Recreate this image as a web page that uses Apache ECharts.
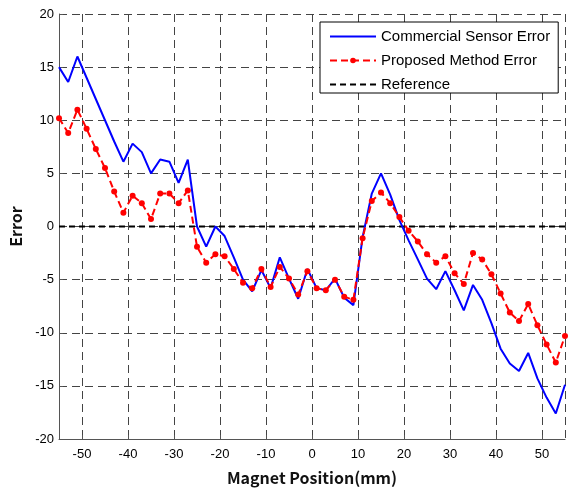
<!DOCTYPE html>
<html>
<head>
<meta charset="utf-8">
<script src="https://cdn.jsdelivr.net/npm/echarts@6/dist/echarts.min.js"></script>
<style>
  html, body { margin: 0; padding: 0; background: #fff; }
  #chart { width: 568px; height: 493px; }
</style>
</head>
<body>
<div id="chart"></div>
<script>
// magnet position (mm)
const positions = [-55, -53, -51, -49, -47, -45, -43, -41, -39, -37, -35, -33, -31, -29,
  -27, -25, -23, -21, -19, -17, -15, -13, -11, -9, -7, -5, -3, -1,
  1, 3, 5, 7, 9, 11, 13, 15, 17, 19, 21, 23, 25, 27,
  29, 31, 33, 35, 37, 39, 41, 43, 45, 47, 49, 51, 53, 55]

const commercialError = [15.0, 13.6, 16.0, 14.0, 12.0, 10.0, 8.0, 6.1, 7.8, 7.0, 5.0, 6.3, 6.1, 4.1,
  6.3, 0.0, -1.9, 0.0, -0.9, -2.9, -5.0, -6.1, -4.1, -5.8, -2.9, -4.9, -6.8, -4.0,
  -5.8, -6.0, -4.9, -6.7, -7.4, -1.0, 3.1, 5.0, 3.0, 0.6, -1.3, -3.1, -4.9, -5.9,
  -4.2, -6.0, -7.9, -5.5, -6.9, -9.1, -11.5, -12.9, -13.6, -11.9, -14.3, -16.1, -17.6, -14.9]

const proposedError = [10.2, 8.8, 11.0, 9.2, 7.3, 5.5, 3.3, 1.3, 2.9, 2.2, 0.7, 3.1, 3.1, 2.2,
  3.4, -1.9, -3.4, -2.6, -2.8, -4.0, -5.3, -5.8, -4.0, -5.7, -3.8, -4.9, -6.4, -4.2,
  -5.8, -6.0, -5.0, -6.6, -6.9, -1.1, 2.4, 3.2, 2.2, 0.9, -0.4, -1.4, -2.6, -3.4,
  -2.8, -4.4, -5.4, -2.5, -3.1, -4.5, -6.3, -8.1, -8.9, -7.3, -9.3, -11.1, -12.8, -10.3]

const referenceX = [-55, 55]
const referenceY = [0, 0]

const pairs = (xs, ys) => xs.map((x, i) => [x, ys[i]])

const chart = echarts.init(document.getElementById('chart'))
const gridLine = { show: true, lineStyle: { color: '#444', type: [8, 5], width: 1 } }

const option = {
    animation: false,
    grid: { left: 57, right: 3, top: 14, bottom: 54 },
    legend: {
        left: 320,
        top: 22,
        orient: 'vertical',
        backgroundColor: '#fff',
        borderColor: '#000',
        borderWidth: 1,
        borderRadius: 0,
        padding: [7, 8, 1, 9],
        itemWidth: 46,
        itemHeight: 7,
        itemGap: 9,
        textStyle: { fontFamily: 'Liberation Sans', fontSize: 15, color: '#000' },
        data: [
            { name: 'Commercial Sensor Error', itemStyle: { opacity: 0 } },
            { name: 'Proposed Method Error' },
            { name: 'Reference', itemStyle: { opacity: 0 } }
        ]
    },
    xAxis: {
        type: 'value',
        min: -55,
        max: 55,
        splitNumber: 11,
        name: 'Magnet Position(mm)',
        nameLocation: 'middle',
        nameGap: 31,
        nameTextStyle: { fontFamily: 'Noto Sans CJK KR', fontWeight: 'bold', fontSize: 16, color: '#111' },
        axisLine: { onZero: false, lineStyle: { color: '#555', width: 1 } },
        axisTick: { inside: true, length: 4, lineStyle: { color: '#555' } },
        axisLabel: {
            showMinLabel: false, showMaxLabel: false, margin: 9,
            fontFamily: 'Liberation Sans', fontSize: 13, color: '#000'
        },
        splitLine: gridLine
    },
    yAxis: {
        type: 'value',
        min: -20,
        max: 20,
        interval: 5,
        name: 'Error',
        nameLocation: 'middle',
        nameGap: 35,
        nameTextStyle: { fontFamily: 'Noto Sans CJK KR', fontWeight: 'bold', fontSize: 16, color: '#111' },
        axisLine: { show: true, onZero: false, lineStyle: { color: '#555', width: 1 } },
        axisTick: { show: true, inside: true, length: 4, lineStyle: { color: '#555' } },
        axisLabel: { margin: 5, fontFamily: 'Liberation Sans', fontSize: 13, color: '#000' },
        splitLine: gridLine
    },
    series: [
        {
            name: 'Commercial Sensor Error',
            type: 'line',
            symbol: 'none',
            color: '#0000ff',
            lineStyle: { width: 2, color: '#0000ff' },
            data: pairs(positions, commercialError),
            z: 3
        },
        {
            name: 'Proposed Method Error',
            type: 'line',
            symbol: 'circle',
            symbolSize: 6,
            color: '#ff0000',
            itemStyle: { color: '#ff0000' },
            lineStyle: { width: 2, color: '#ff0000', type: [7, 4] },
            data: pairs(positions, proposedError),
            z: 4
        },
        {
            name: 'Reference',
            type: 'line',
            symbol: 'none',
            color: '#000',
            lineStyle: { width: 2, color: '#000', type: [6, 4] },
            data: pairs(referenceX, referenceY),
            z: 2
        }
    ]
}
chart.setOption(option)
</script>
</body>
</html>
